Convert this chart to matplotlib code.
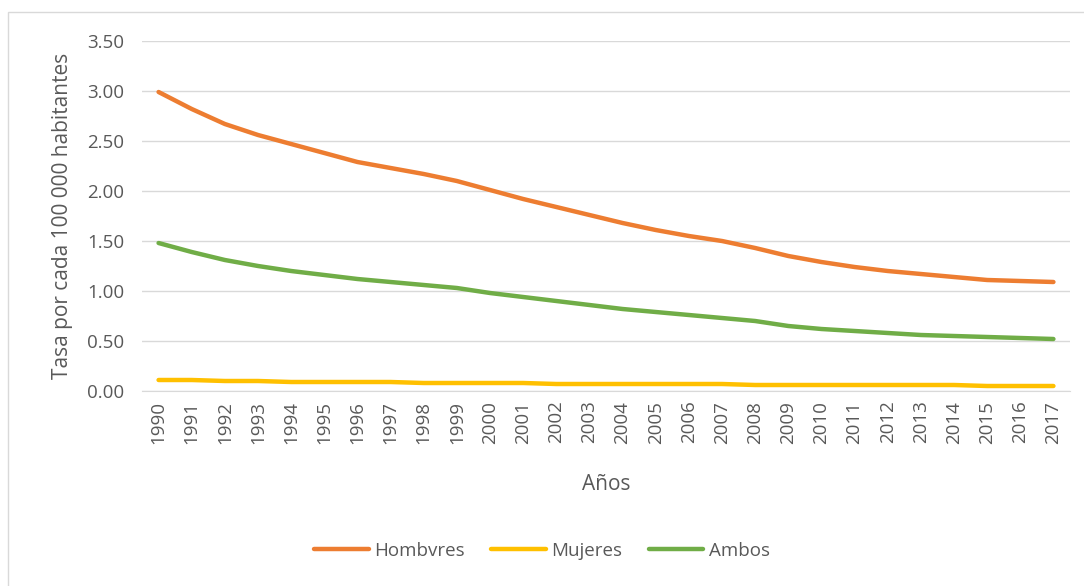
import matplotlib.pyplot as plt
from matplotlib.patches import Rectangle

years = [str(y) for y in range(1990, 2018)]
hombres = [2.99, 2.82, 2.67, 2.56, 2.47, 2.38, 2.29, 2.23, 2.17, 2.10,
           2.01, 1.92, 1.84, 1.76, 1.68, 1.61, 1.55, 1.50, 1.43, 1.35,
           1.29, 1.24, 1.20, 1.17, 1.14, 1.11, 1.10, 1.09]
mujeres = [0.11, 0.11, 0.10, 0.10, 0.09, 0.09, 0.09, 0.09, 0.08, 0.08,
           0.08, 0.08, 0.07, 0.07, 0.07, 0.07, 0.07, 0.07, 0.06, 0.06,
           0.06, 0.06, 0.06, 0.06, 0.06, 0.05, 0.05, 0.05]
ambos = [1.48, 1.39, 1.31, 1.25, 1.20, 1.16, 1.12, 1.09, 1.06, 1.03,
         0.98, 0.94, 0.90, 0.86, 0.82, 0.79, 0.76, 0.73, 0.70, 0.65,
         0.62, 0.60, 0.58, 0.56, 0.55, 0.54, 0.53, 0.52]
yticks = [0.0, 0.5, 1.0, 1.5, 2.0, 2.5, 3.0, 3.5]

plt.rcParams['font.family'] = ['Open Sans', 'DejaVu Sans']
gray = '#595959'

fig = plt.figure(figsize=(10.84, 5.86), dpi=100)
fig.patches.append(Rectangle((8/1084, -0.01), 1.0, 1 - 12/586 + 0.01,
                             transform=fig.transFigure, fill=False,
                             edgecolor='#D9D9D9', lw=1))
ax = fig.add_axes([142/1084, 1 - 391/586, 928/1084, 350/586])

x = range(len(years))
ax.plot(x, hombres, color='#ED7D31', lw=3.2, solid_capstyle='round', label='Hombvres')
ax.plot(x, mujeres, color='#FFC000', lw=3.2, solid_capstyle='round', label='Mujeres')
ax.plot(x, ambos, color='#70AD47', lw=3.2, solid_capstyle='round', label='Ambos')

ax.set_xlim(-0.5, len(years) - 0.5)
ax.set_ylim(0, 3.5)
ax.set_yticks(yticks)
ax.set_yticklabels([f'{v:.2f}' for v in yticks])
ax.set_xticks(list(x))
ax.set_xticklabels(years, rotation=90)
ax.grid(axis='y', color='#D9D9D9', lw=1)
ax.set_axisbelow(True)
for s in ['top', 'right', 'left']:
    ax.spines[s].set_visible(False)
ax.spines['bottom'].set_color('#D9D9D9')
ax.tick_params(axis='both', length=0, labelcolor=gray, labelsize=13.5)
ax.tick_params(axis='y', pad=13)
ax.tick_params(axis='x', pad=7)
ax.set_ylabel('Tasa por cada 100 000 habitantes', color=gray, fontsize=15, labelpad=10)
ax.set_xlabel('Años', color=gray, fontsize=15, labelpad=22)

fig.legend(loc='center', bbox_to_anchor=(0.5, 1 - 551/586), ncol=3, frameon=False,
           fontsize=13.5, labelcolor=gray, handlelength=2.9, handletextpad=0.3,
           columnspacing=1.4)

fig.savefig('out.png', dpi=100)
